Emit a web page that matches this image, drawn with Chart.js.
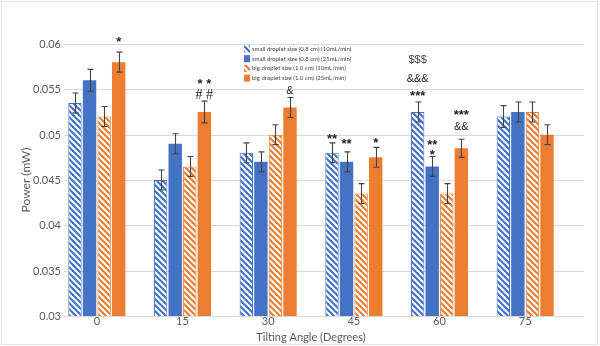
<!DOCTYPE html>
<html>
<head>
<meta charset="utf-8">
<script src="https://cdn.jsdelivr.net/npm/chart.js@4.4.1/dist/chart.umd.min.js"></script>
<style>
  html, body { margin: 0; padding: 0; background: #fff; }
  #wrap { width: 600px; height: 346px; position: relative; }
</style>
</head>
<body>
<div id="wrap"><canvas id="powerChart"></canvas></div>
<script>
// tilting angles (degrees)
const angles = ['0', '15', '30', '45', '60', '75'];

const seriesNames = [
  'small droplet size (0.8 cm) (10mL/min)',
  'small droplet size (0.8 cm) (25mL/min)',
  'big droplet size (1.0 cm) (10mL/min)',
  'big droplet size (1.0 cm) (25mL/min)'
];

// mean power (mW)
const smallSlow = [0.0535, 0.045, 0.048, 0.048, 0.0525, 0.052];
const smallFast = [0.056, 0.049, 0.047, 0.047, 0.0465, 0.0525];
const bigSlow   = [0.052, 0.0465, 0.050, 0.0435, 0.0435, 0.0525];
const bigFast   = [0.058, 0.0525, 0.053, 0.0475, 0.0485, 0.050];

// error bar half-widths (mW)
const smallSlowErr = [0.0011, 0.0011, 0.0011, 0.0011, 0.0011, 0.0012];
const smallFastErr = [0.0012, 0.0011, 0.0011, 0.0011, 0.0011, 0.0011];
const bigSlowErr   = [0.0011, 0.0011, 0.0011, 0.0011, 0.0011, 0.0011];
const bigFastErr   = [0.0011, 0.0012, 0.0011, 0.0011, 0.0010, 0.0011];

const yTicks = [0.03, 0.035, 0.04, 0.045, 0.05, 0.055, 0.06];
const yTickLabels = ['0.03', '0.035', '0.04', '0.045', '0.05', '0.055', '0.06'];

// significance marks: series index, angle index, text lines from the bar upward
const sigSeries = [3, 3, 3, 0, 1, 3, 0, 1, 3];
const sigAngle  = [0, 1, 2, 3, 3, 3, 4, 4, 4];
const sigText   = [
  ['*'],
  ['# #', '* *'],
  ['&'],
  ['**'],
  ['**'],
  ['*'],
  ['***', '&&&', '$$$'],
  ['*', '**'],
  ['&&', '***']
];

// pixel lift of each text line above the error bar cap
const sigLift = [
  [14],
  [6, 21],
  [7],
  [7],
  [11],
  [8],
  [10, 23, 42],
  [5, 15],
  [12, 28]
];

const BLUE = '#4472C4';
const ORANGE = '#ED7D31';
const FONT = 'Lato';
const TEXT = '#595959';

function hatch(color) {
  const s = 6;
  const c = document.createElement('canvas');
  c.width = s; c.height = s;
  const g = c.getContext('2d');
  g.fillStyle = '#fff';
  g.fillRect(0, 0, s, s);
  g.strokeStyle = color;
  g.lineWidth = 2.2;
  for (let k = -1; k <= 1; k++) {
    g.beginPath();
    g.moveTo(k * s - 1, -1);
    g.lineTo(k * s + s + 1, s + 1);
    g.stroke();
  }
  return g.createPattern(c, 'repeat');
}

const ctx = document.getElementById('powerChart');
ctx.width = 600; ctx.height = 346;

const values = [smallSlow, smallFast, bigSlow, bigFast];
const errors = [smallSlowErr, smallFastErr, bigSlowErr, bigFastErr];
const hatched = [true, false, true, false];
const colors = [BLUE, BLUE, ORANGE, ORANGE];

const datasets = values.map((v, i) => ({
  label: seriesNames[i],
  data: v,
  errors: errors[i],
  backgroundColor: hatched[i] ? hatch(colors[i]) : colors[i],
  borderColor: hatched[i] ? colors[i] : '#fff',
  borderWidth: hatched[i] ? 1 : 0,
  categoryPercentage: 0.68,
  barPercentage: 0.92
}));

const frame = {
  id: 'frame',
  beforeDraw(chart) {
    const c = chart.ctx;
    c.save();
    c.fillStyle = '#fff';
    c.fillRect(0, 0, chart.width, chart.height);
    c.strokeStyle = '#e3e3e3';
    c.lineWidth = 1;
    c.strokeRect(1.5, 1.5, 596, 343);
    c.restore();
  }
};

// horizontal gridlines and value labels, a little wider than the bar area
const valueAxis = {
  id: 'valueAxis',
  beforeDatasetsDraw(chart) {
    const c = chart.ctx;
    const y = chart.scales.y;
    c.save();
    c.strokeStyle = '#d9d9d9';
    c.lineWidth = 1;
    c.fillStyle = TEXT;
    c.font = '11px ' + FONT;
    c.textAlign = 'right';
    c.textBaseline = 'middle';
    yTicks.forEach((t, i) => {
      const py = Math.round(y.getPixelForValue(t)) + 0.5;
      c.beginPath();
      c.moveTo(64, py);
      c.lineTo(584, py);
      c.stroke();
      c.fillText(yTickLabels[i], 61, py);
    });
    c.restore();
  }
};

const errorBars = {
  id: 'errorBars',
  afterDatasetsDraw(chart) {
    const c = chart.ctx;
    const y = chart.scales.y;
    c.save();
    c.strokeStyle = '#444';
    c.lineWidth = 1.1;
    chart.data.datasets.forEach((ds, di) => {
      const meta = chart.getDatasetMeta(di);
      meta.data.forEach((bar, i) => {
        const v = ds.data[i], e = ds.errors[i];
        const top = y.getPixelForValue(v + e);
        const bot = y.getPixelForValue(v - e);
        const x = Math.round(bar.x) + 0.5;
        c.beginPath();
        c.moveTo(x, top); c.lineTo(x, bot);
        c.moveTo(x - 3, top); c.lineTo(x + 3, top);
        c.moveTo(x - 3, bot); c.lineTo(x + 3, bot);
        c.stroke();
      });
    });
    c.restore();
  }
};

function markFont(t) {
  if (t.includes('*')) return 'bold 13px "Liberation Sans"';
  if (t.includes('#')) return '14px "Liberation Serif"';
  return '11px "Liberation Sans"';
}

const sigMarks = {
  id: 'sigMarks',
  afterDatasetsDraw(chart) {
    const c = chart.ctx;
    const y = chart.scales.y;
    c.save();
    c.textAlign = 'center';
    c.textBaseline = 'middle';
    sigSeries.forEach((s, k) => {
      const a = sigAngle[k];
      const bar = chart.getDatasetMeta(s).data[a];
      const ds = chart.data.datasets[s];
      const top = y.getPixelForValue(ds.data[a] + ds.errors[a]);
      sigText[k].forEach((t, j) => {
        c.font = markFont(t);
        const dy = t.includes('*') ? 4 : 0;
        c.fillStyle = t.includes('$') ? '#444' : '#222';
        c.fillText(t, bar.x, top - sigLift[k][j] + dy);
      });
    });
    c.restore();
  }
};

const boxLegend = {
  id: 'boxLegend',
  afterDraw(chart) {
    const c = chart.ctx;
    c.save();
    c.font = '6px ' + FONT;
    c.textBaseline = 'middle';
    c.textAlign = 'left';
    chart.data.datasets.forEach((ds, i) => {
      const cy = 49 + i * 9.7;
      c.fillStyle = ds.backgroundColor;
      c.fillRect(244, cy - 3.5, 6, 7);
      c.fillStyle = '#404040';
      c.fillText(ds.label, 252, cy);
    });
    c.restore();
  }
};

new Chart(ctx, {
  type: 'bar',
  data: { labels: angles, datasets: datasets },
  options: {
    responsive: false,
    animation: false,
    devicePixelRatio: 1,
    layout: { padding: { top: 44, right: 32, bottom: 0, left: 0 } },
    plugins: {
      legend: { display: false },
      tooltip: { enabled: false }
    },
    scales: {
      x: {
        grid: { display: false, drawTicks: false },
        border: { display: false },
        ticks: { color: TEXT, font: { family: FONT, size: 11 }, padding: -1 },
        title: {
          display: true, text: 'Tilting Angle (Degrees)', color: TEXT,
          font: { family: FONT, size: 11 }, padding: { top: 0, bottom: 2 }
        },
        afterFit: s => { s.height = 30; }
      },
      y: {
        min: 0.03, max: 0.06,
        grid: { display: false, drawTicks: false },
        border: { display: false },
        ticks: { display: false },
        title: {
          display: true, text: 'Power (mW)', color: TEXT,
          font: { family: FONT, size: 12 }, padding: { top: 19, bottom: 0 }
        },
        afterFit: s => { s.width = 54; }
      }
    }
  },
  plugins: [frame, valueAxis, errorBars, sigMarks, boxLegend]
});
</script>
</body>
</html>
